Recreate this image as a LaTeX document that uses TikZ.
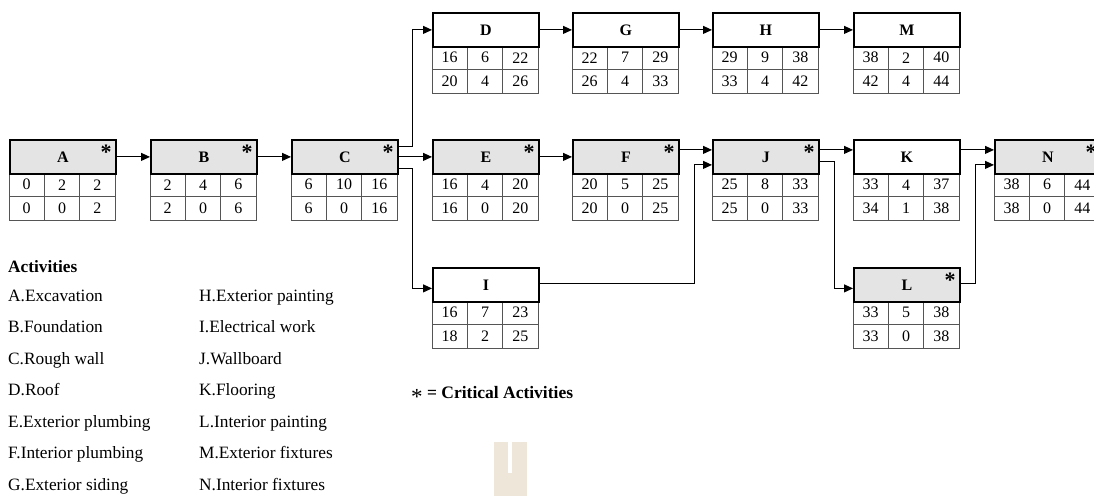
\documentclass[tikz,border=0pt]{standalone}
\usepackage{fontspec}
\setmainfont{Liberation Serif}
\usetikzlibrary{arrows.meta,calc}
\definecolor{hdrgray}{HTML}{E4E4E4}
\definecolor{cellgray}{HTML}{555555}
\definecolor{wmark}{HTML}{EEE6D8}
\tikzset{
 hdr/.style={draw=black, line width=1.8pt, minimum width=106pt, minimum height=34pt, inner sep=0pt, anchor=north west, font=\fontsize{16}{16}\selectfont\bfseries},
 crit/.style={hdr, fill=hdrgray},
 cell/.style={draw=cellgray, line width=1pt, minimum width=35.333pt, minimum height=23.5pt, inner sep=0pt, font=\fontsize{16}{16}\selectfont},
 arr/.style={-{Triangle[length=9pt,width=8pt]}, line width=1pt},
 starmark/.style={font=\fontsize{22}{22}\selectfont\bfseries, inner sep=0pt, anchor=north east},
 legend/.style={anchor=base west, inner sep=0pt, font=\fontsize{17.3}{17.3}\selectfont},
}
\newcommand{\actnode}[6]{%
 \foreach \v [count=\i] in {#5} {\node[cell] (#1r1c\i) at ({#2+(\i-0.5)*35.333},{#3+34+11.75}) {\v};}
 \foreach \v [count=\i] in {#6} {\node[cell] (#1r2c\i) at ({#2+(\i-0.5)*35.333},{#3+34+35.25}) {\v};}
 \node[#4] (#1) at (#2,#3) {#1};
}
\newcommand{\critstar}[1]{\node[starmark] (#1star) at ([xshift=-5pt,yshift=-6pt]#1.north east) {*};}
\begin{document}
\begin{tikzpicture}[x=1pt,y=-1pt]
\useasboundingbox (0,0) rectangle (1094,496);
% activity boxes
\actnode{A}{9}{139}{crit}{0,2,2}{0,0,2}
\actnode{B}{150}{139}{crit}{2,4,6}{2,0,6}
\actnode{C}{291}{139}{crit}{6,10,16}{6,0,16}
\actnode{D}{432}{12}{hdr}{16,6,22}{20,4,26}
\actnode{G}{572}{12}{hdr}{22,7,29}{26,4,33}
\actnode{H}{712}{12}{hdr}{29,9,38}{33,4,42}
\actnode{M}{853}{12}{hdr}{38,2,40}{42,4,44}
\actnode{E}{432}{139}{crit}{16,4,20}{16,0,20}
\actnode{F}{572}{139}{crit}{20,5,25}{20,0,25}
\actnode{J}{712}{139}{crit}{25,8,33}{25,0,33}
\actnode{K}{853}{139}{hdr}{33,4,37}{34,1,38}
\actnode{N}{994}{139}{crit}{38,6,44}{38,0,44}
\actnode{I}{432}{267}{hdr}{16,7,23}{18,2,25}
\actnode{L}{853}{267}{crit}{33,5,38}{33,0,38}
\critstar{A}\critstar{B}\critstar{C}\critstar{E}\critstar{F}\critstar{J}\critstar{N}\critstar{L}
% connectors
\draw[arr] (A.east) -- (B.west);
\draw[arr] (B.east) -- (C.west);
\draw[arr] (C.east) -- (E.west);
\draw[arr] (E.east) -- (F.west);
\draw[arr] ([yshift=10pt]C.east) -- ++(14,0) |- (D.west);
\draw[arr] ([yshift=-12pt]C.east) -- ++(14,0) |- ([yshift=-3.5pt]I.west);
\draw[arr] (D.east) -- (G.west);
\draw[arr] (G.east) -- (H.west);
\draw[arr] (H.east) -- (M.west);
\draw[arr] ([yshift=7pt]F.east) -- ([yshift=7pt]J.west);
\draw[arr] ([yshift=1.5pt]I.east) -- ++(155,0) |- ([yshift=-8pt]J.west);
\draw[arr] ([yshift=7pt]J.east) -- ([yshift=7pt]K.west);
\draw[arr] ([yshift=-5pt]J.east) -- ++(15,0) |- ([yshift=-3.5pt]L.west);
\draw[arr] ([yshift=7pt]K.east) -- ([yshift=7pt]N.west);
\draw[arr] ([yshift=1.5pt]L.east) -- ++(15,0) |- ([yshift=-8pt]N.west);
% legend
\node[legend, font=\fontsize{17.3}{17.3}\selectfont\bfseries] (acttitle) at (8,272) {Activities};
\node[legend] (la) at (8,301) {A.Excavation};
\node[legend] (lb) at (8,332.5) {B.Foundation};
\node[legend] (lc) at (8,364) {C.Rough wall};
\node[legend] (ld) at (8,395.5) {D.Roof};
\node[legend] (le) at (8,427) {E.Exterior plumbing};
\node[legend] (lf) at (8,458.5) {F.Interior plumbing};
\node[legend] (lg) at (8,490) {G.Exterior siding};
\node[legend] (lh) at (199,301) {H.Exterior painting};
\node[legend] (li) at (199,332.5) {I.Electrical work};
\node[legend] (lj) at (199,364) {J.Wallboard};
\node[legend] (lk) at (199,395.5) {K.Flooring};
\node[legend] (ll) at (199,427) {L.Interior painting};
\node[legend] (lm) at (199,458.5) {M.Exterior fixtures};
\node[legend] (ln) at (199,490) {N.Interior fixtures};
\node[legend, font=\fontsize{17.5}{17.5}\selectfont\bfseries] (crit) at (411,398) {\raisebox{-6pt}{\fontsize{23}{23}\selectfont\mdseries *} = Critical Activities};
% watermark
\fill[wmark] (494,442) rectangle (527,496);
\fill[white] (508,442) rectangle (512,473);
\end{tikzpicture}
\end{document}
